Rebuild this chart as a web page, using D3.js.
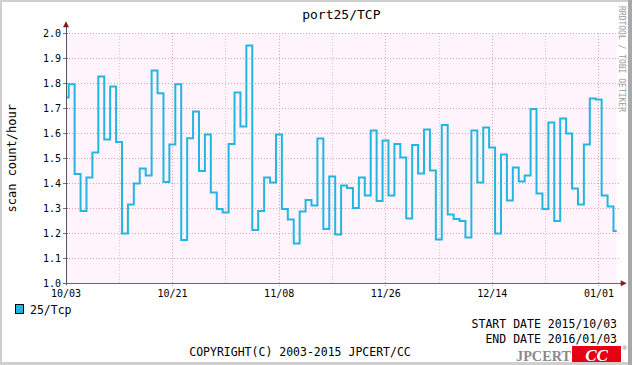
<!DOCTYPE html>
<html><head><meta charset="utf-8">
<script src="https://cdn.jsdelivr.net/npm/d3@7"></script>
<style>html,body{margin:0;padding:0;background:#fff;}svg{display:block;}</style>
</head><body>
<svg id="c" width="632" height="365"></svg>
<script>
// ---- data ----
const title = "port25/TCP";
const seriesName = "25/Tcp";
const yLabel = "scan count/hour";
const startDate = "2015-10-03";
const endDate = "2016-01-03";
const spanDays = 93;
const stepOffsetHours = 11;
const yTicks = [1.0, 1.1, 1.2, 1.3, 1.4, 1.5, 1.6, 1.7, 1.8, 1.9, 2.0];
const xTickLabels = ["10/03", "10/21", "11/08", "11/26", "12/14", "01/01"];
const values = [1.743, 1.796, 1.437, 1.289, 1.423, 1.523, 1.827, 1.575, 1.787, 1.565,
  1.199, 1.315, 1.399, 1.459, 1.431, 1.851, 1.760, 1.405, 1.555, 1.796,
  1.173, 1.580, 1.687, 1.449, 1.595, 1.363, 1.297, 1.283, 1.557, 1.763,
  1.627, 1.951, 1.213, 1.289, 1.423, 1.403, 1.595, 1.297, 1.255, 1.159,
  1.287, 1.333, 1.311, 1.579, 1.217, 1.427, 1.195, 1.391, 1.381, 1.301,
  1.423, 1.351, 1.611, 1.329, 1.571, 1.351, 1.557, 1.503, 1.259, 1.553,
  1.439, 1.615, 1.451, 1.175, 1.633, 1.275, 1.257, 1.249, 1.183, 1.611,
  1.403, 1.623, 1.543, 1.199, 1.515, 1.331, 1.463, 1.407, 1.431, 1.697,
  1.359, 1.297, 1.643, 1.249, 1.659, 1.599, 1.379, 1.315, 1.555, 1.739,
  1.735, 1.351, 1.307, 1.209];

// ---- layout ----
const W = 632, H = 365;
const L = 66, R = 616.7, T = 33.3, B = 283.3;
const mono = "'DejaVu Sans Mono', monospace";
const lineColor = "#22b7e0";
const DAY = 86400000;

const svg = d3.select("#c");
// frame
svg.append("rect").attr("x",0).attr("y",0).attr("width",W).attr("height",H).attr("fill","#cfcfcf");
svg.append("rect").attr("x",2).attr("y",2).attr("width",W-6).attr("height",H-5).attr("fill","#ffffff");
svg.append("rect").attr("x",W-4).attr("y",0).attr("width",4).attr("height",H).attr("fill","#a8a8a8");

const t0 = new Date(startDate + "T00:00:00Z");
const t1 = new Date(t0.getTime() + spanDays*DAY);
const x = d3.scaleUtc().domain([t0, t1]).range([L, R]);
const y = d3.scaleLinear().domain([1.0, 2.0]).range([B, T]);

// plot background
svg.append("rect").attr("x",L).attr("y",T).attr("width",R-L).attr("height",B-T).attr("fill","#fff3fc");

// grid
const gridDates = d3.range(0, spanDays, 9).map(d => new Date(t0.getTime() + d*DAY));
const g = svg.append("g");
gridDates.forEach((d,i) => {
  const major = i % 2 === 0;
  g.append("line").attr("x1",x(d)).attr("x2",x(d)).attr("y1",T).attr("y2",B+ (major?3:2))
    .attr("stroke", major ? "#e8a0a8" : "#e0c0d0").attr("stroke-width",1)
    .attr("stroke-dasharray","1,2").attr("shape-rendering","crispEdges");
});
yTicks.forEach(v => {
  g.append("line").attr("x1",L).attr("x2",R+3).attr("y1",y(v)).attr("y2",y(v))
    .attr("stroke","#e8a0a8").attr("stroke-width",1).attr("stroke-dasharray","1,2")
    .attr("shape-rendering","crispEdges");
  g.append("line").attr("x1",L-3).attr("x2",L+2).attr("y1",y(v)).attr("y2",y(v))
    .attr("stroke","#9a6a6a").attr("stroke-width",1).attr("shape-rendering","crispEdges");
});

// series
const pts = values.map((v,k) => ({
  t: k === 0 ? t0 : new Date(t0.getTime() + stepOffsetHours*3600000 + (k-1)*DAY),
  v
}));
pts.push({t: t1, v: values[values.length-1]});
const line = d3.line().x(d => x(d.t)).y(d => y(d.v)).curve(d3.curveStepAfter);
svg.append("path").datum(pts).attr("d", line).attr("fill","none")
  .attr("stroke", lineColor).attr("stroke-width", 2).attr("stroke-linejoin","miter");

// axes lines
svg.append("line").attr("x1",L).attr("x2",L).attr("y1",B+2).attr("y2",T-9)
  .attr("stroke","#555").attr("stroke-width",1).attr("shape-rendering","crispEdges");
svg.append("line").attr("x1",L-3).attr("x2",R+4).attr("y1",B).attr("y2",B)
  .attr("stroke","#666").attr("stroke-width",1).attr("shape-rendering","crispEdges");
svg.append("path").attr("d",`M${L-3},${T-6} L${L+3},${T-6} L${L},${T-12} Z`).attr("fill","#8b1a1a");
svg.append("path").attr("d",`M${R+4},${B-3} L${R+4},${B+3} L${R+10},${B} Z`).attr("fill","#8b1a1a");

// y tick labels
yTicks.forEach(v => {
  svg.append("text").attr("x",L-5).attr("y",y(v)+3.5).attr("text-anchor","end")
    .attr("font-family",mono).attr("font-size",10).attr("fill","#000").text(v.toFixed(1));
});
// x tick labels
gridDates.filter((d,i)=>i%2===0).forEach((d,i) => {
  svg.append("text").attr("x",x(d)).attr("y",B+14).attr("text-anchor","middle")
    .attr("font-family",mono).attr("font-size",10).attr("fill","#000").text(xTickLabels[i]);
});

// title
svg.append("text").attr("x",(L+R)/2).attr("y",19).attr("text-anchor","middle")
  .attr("font-family",mono).attr("font-size",13).attr("fill","#000").text(title);
// y label
svg.append("text").attr("transform",`translate(16,${(T+B)/2}) rotate(-90)`).attr("text-anchor","middle")
  .attr("font-family",mono).attr("font-size",12).attr("fill","#000").text(yLabel);
// watermark
svg.append("text").attr("transform",`translate(619,6) rotate(90)`).attr("text-anchor","start")
  .attr("font-family",mono).attr("font-size",8).attr("fill","#9a9a9a").text("RRDTOOL / TOBI OETIKER");

// legend
svg.append("rect").attr("x",15.5).attr("y",304.5).attr("width",8).attr("height",9)
  .attr("fill",lineColor).attr("stroke","#000").attr("stroke-width",1);
svg.append("text").attr("x",30).attr("y",313.5).attr("font-family",mono).attr("font-size",11.5)
  .attr("fill","#000").text(seriesName);

// footer
svg.append("text").attr("x",617).attr("y",327.5).attr("text-anchor","end").attr("font-family",mono)
  .attr("font-size",11.5).attr("fill","#000").text("START DATE " + startDate.replace(/-/g,"/"));
svg.append("text").attr("x",617).attr("y",342.5).attr("text-anchor","end").attr("font-family",mono)
  .attr("font-size",11.5).attr("fill","#000").text("END DATE " + endDate.replace(/-/g,"/"));
svg.append("text").attr("x",300).attr("y",356).attr("text-anchor","middle").attr("font-family",mono)
  .attr("font-size",11.5).attr("fill","#000").text("COPYRIGHT(C) 2003-2015 JPCERT/CC");

// logo
svg.append("text").attr("x",571).attr("y",361).attr("text-anchor","end")
  .attr("font-family","'Liberation Serif', serif").attr("font-weight","bold").attr("font-size",15.5)
  .attr("fill","#8a8a8a").attr("textLength",55).attr("lengthAdjust","spacingAndGlyphs").text("JPCERT");
svg.append("rect").attr("x",572).attr("y",346).attr("width",49).attr("height",16).attr("fill","#e50012");
svg.append("text").attr("x",596.5).attr("y",360.5).attr("text-anchor","middle")
  .attr("font-family","'Liberation Serif', serif").attr("font-weight","bold").attr("font-style","italic")
  .attr("font-size",17).attr("fill","#fff").text("CC");
svg.append("text").attr("x",622.5).attr("y",350).attr("font-family","'Liberation Sans', sans-serif")
  .attr("font-size",6).attr("fill","#666").text("®");
</script>
</body></html>
